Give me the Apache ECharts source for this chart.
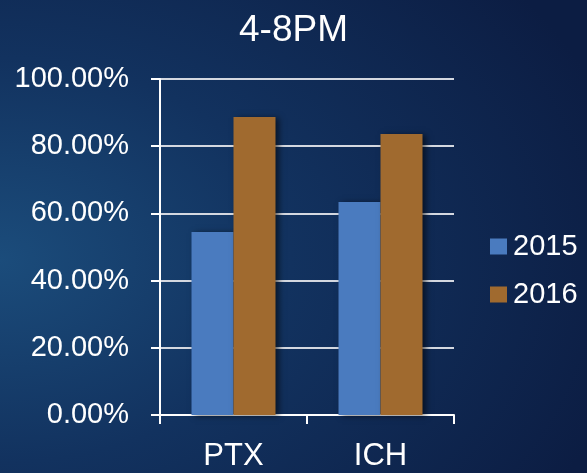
<!DOCTYPE html>
<html lang="en">
<head>
    <meta charset="UTF-8">
    <title>4-8PM</title>
    <script src="https://cdn.jsdelivr.net/npm/echarts@6/dist/echarts.min.js"></script>
    <style>
        html, body { margin: 0; padding: 0; }
        #main {
            width: 587px; height: 473px;
            background: radial-gradient(ellipse 110% 95% at 0% 55%, #1b4c7b 0%, #12325f 45%, #0c1d43 100%);
        }
    </style>
</head>
<body>
<div id="main"></div>
<script>
    // chart data
    var categories = ['PTX', 'ICH'];
    var seriesNames = ['2015', '2016'];
    var values2015 = [54.5, 63.4];
    var values2016 = [88.7, 83.6];
    var seriesColors = ['#4a7bbf', '#a06a2f'];

    var fontFam = '"Liberation Sans", Arial, sans-serif';
    var myChart = echarts.init(document.getElementById('main'));

    var barShadow = {shadowColor: 'rgba(0,0,0,0.55)', shadowBlur: 6, shadowOffsetX: 3, shadowOffsetY: 1};

    var option = {
        backgroundColor: 'transparent',
        title: {
            text: '4-8PM',
            left: 'center',
            top: 7,
            textStyle: {color: '#fff', fontSize: 37, fontWeight: 'normal', fontFamily: fontFam}
        },
        legend: {
            data: seriesNames,
            orient: 'vertical',
            left: 485,
            top: 227,
            itemWidth: 17,
            itemHeight: 16,
            itemGap: 19,
            icon: 'rect',
            textStyle: {color: '#fff', fontSize: 29, fontFamily: fontFam, padding: [0, 0, 0, 1]}
        },
        grid: {left: 160, right: 133, top: 79, bottom: 58},
        xAxis: {
            type: 'category',
            data: categories,
            axisLine: {lineStyle: {color: '#fff', width: 2}},
            axisTick: {show: true, length: 9, lineStyle: {color: '#fff', width: 2}},
            axisLabel: {color: '#fff', fontSize: 31, fontFamily: fontFam, margin: 26}
        },
        yAxis: {
            type: 'value',
            min: 0,
            max: 100,
            interval: 20,
            axisLine: {show: true, lineStyle: {color: '#fff', width: 2}},
            axisTick: {show: true, length: 9, lineStyle: {color: '#fff', width: 2}},
            splitLine: {lineStyle: {color: '#d4d8e0', width: 2}},
            axisLabel: {
                color: '#fff', fontSize: 29, fontFamily: fontFam, margin: 31,
                formatter: function (v) { return v.toFixed(2) + '%'; }
            }
        },
        series: [
            {
                name: seriesNames[0],
                type: 'bar',
                data: values2015,
                barWidth: 42,
                barGap: '0%',
                itemStyle: Object.assign({color: seriesColors[0]}, barShadow)
            },
            {
                name: seriesNames[1],
                type: 'bar',
                data: values2016,
                barWidth: 42,
                barGap: '0%',
                itemStyle: Object.assign({color: seriesColors[1]}, barShadow)
            }
        ]
    };
    myChart.setOption(option);
</script>
</body>
</html>
